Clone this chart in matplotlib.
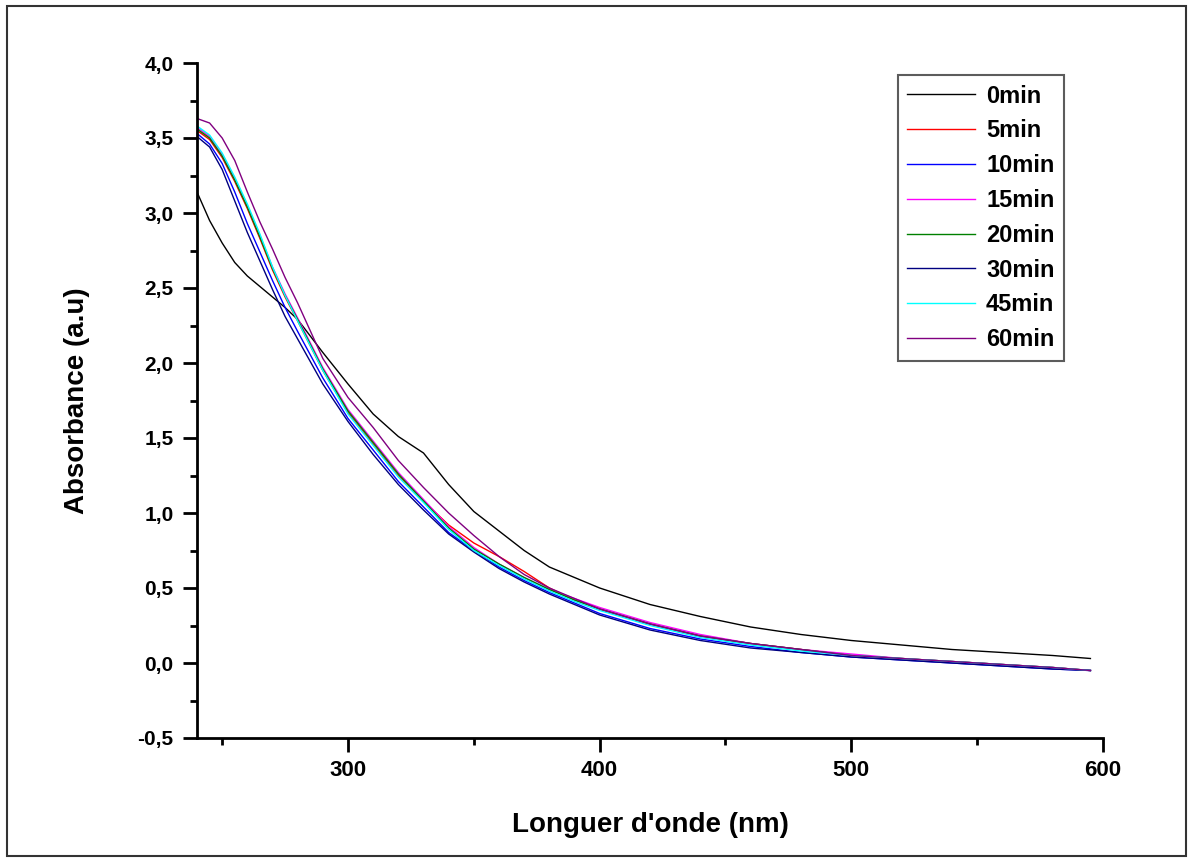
import matplotlib
matplotlib.use("Agg")
import matplotlib.pyplot as plt
from matplotlib.ticker import MultipleLocator, FuncFormatter
from matplotlib.patches import Rectangle

plt.rcParams['font.family'] = ['Liberation Sans', 'DejaVu Sans']
plt.rcParams['font.weight'] = 'bold'

# longueur d'onde (nm)
wl = [240, 245, 250, 255, 260, 265, 270, 275, 280, 290, 300, 310, 320, 330, 340,
      350, 360, 370, 380, 390, 400, 420, 440, 460, 480, 500, 520, 540, 560, 580, 595]

a_0 = [3.14, 2.95, 2.80, 2.67, 2.58, 2.51, 2.44, 2.37, 2.29, 2.07, 1.86, 1.66, 1.51, 1.40, 1.19,
       1.01, 0.88, 0.75, 0.64, 0.57, 0.50, 0.39, 0.31, 0.24, 0.19, 0.15, 0.12, 0.09, 0.07, 0.05, 0.03]
a_5 = [3.55, 3.49, 3.37, 3.21, 3.03, 2.83, 2.62, 2.44, 2.28, 1.95, 1.67, 1.46, 1.25, 1.08, 0.92,
       0.80, 0.71, 0.61, 0.50, 0.42, 0.36, 0.26, 0.18, 0.13, 0.09, 0.05, 0.03, 0.01, -0.01, -0.03, -0.05]
a_10 = [3.53, 3.46, 3.33, 3.14, 2.93, 2.74, 2.55, 2.37, 2.21, 1.90, 1.63, 1.42, 1.21, 1.04, 0.87,
        0.75, 0.64, 0.55, 0.47, 0.40, 0.33, 0.23, 0.16, 0.11, 0.07, 0.04, 0.02, 0.00, -0.02, -0.04, -0.05]
a_15 = [3.57, 3.51, 3.39, 3.23, 3.05, 2.85, 2.64, 2.46, 2.30, 1.97, 1.69, 1.48, 1.27, 1.09, 0.91,
        0.77, 0.66, 0.57, 0.49, 0.43, 0.37, 0.27, 0.19, 0.13, 0.09, 0.06, 0.03, 0.01, -0.01, -0.03, -0.05]
a_20 = [3.56, 3.50, 3.38, 3.22, 3.04, 2.84, 2.63, 2.45, 2.29, 1.96, 1.68, 1.47, 1.26, 1.08, 0.90,
        0.76, 0.66, 0.57, 0.49, 0.42, 0.36, 0.26, 0.18, 0.13, 0.09, 0.05, 0.03, 0.01, -0.01, -0.03, -0.05]
a_30 = [3.51, 3.44, 3.29, 3.08, 2.87, 2.68, 2.49, 2.31, 2.16, 1.86, 1.61, 1.39, 1.19, 1.02, 0.86,
        0.74, 0.63, 0.54, 0.46, 0.39, 0.32, 0.22, 0.15, 0.10, 0.07, 0.04, 0.02, 0.00, -0.02, -0.04, -0.05]
a_45 = [3.58, 3.52, 3.40, 3.24, 3.06, 2.86, 2.64, 2.45, 2.28, 1.95, 1.66, 1.45, 1.24, 1.07, 0.89,
        0.75, 0.65, 0.56, 0.48, 0.41, 0.35, 0.25, 0.17, 0.12, 0.08, 0.05, 0.03, 0.01, -0.01, -0.03, -0.05]
a_60 = [3.63, 3.60, 3.50, 3.35, 3.14, 2.94, 2.76, 2.57, 2.40, 2.03, 1.77, 1.57, 1.35, 1.17, 1.00,
        0.85, 0.71, 0.59, 0.50, 0.43, 0.36, 0.26, 0.18, 0.13, 0.09, 0.05, 0.03, 0.01, -0.01, -0.03, -0.05]

labels = ['0min', '5min', '10min', '15min', '20min', '30min', '45min', '60min']
series = [a_0, a_5, a_10, a_15, a_20, a_30, a_45, a_60]
colors = ['#000000', '#ff0000', '#0000ff', '#ff00ff', '#008000', '#000080', '#00ffff', '#800080']

W, H = 1193, 859
fig = plt.figure(figsize=(W / 100, H / 100), dpi=100)
ax = fig.add_axes([197 / W, (H - 738) / H, 906 / W, 675 / H])

for y, lab, c in zip(series, labels, colors):
    ax.plot(wl, y, color=c, lw=1.0, label=lab)

ax.set_xlim(240, 600)
ax.set_ylim(-0.5, 4.0)
ax.xaxis.set_major_locator(MultipleLocator(100))
ax.xaxis.set_minor_locator(MultipleLocator(50))
ax.yaxis.set_major_locator(MultipleLocator(0.5))
ax.yaxis.set_minor_locator(MultipleLocator(0.25))
ax.yaxis.set_major_formatter(FuncFormatter(lambda v, p: ('%.1f' % v).replace('.', ',')))

for s in ['top', 'right']:
    ax.spines[s].set_visible(False)
for s in ['left', 'bottom']:
    ax.spines[s].set_linewidth(2)
ax.tick_params(which='major', direction='out', length=10, width=2)
ax.tick_params(which='minor', direction='out', length=5, width=2)
ax.tick_params(axis='y', which='major', labelsize=15, pad=7)
ax.tick_params(axis='x', which='major', labelsize=16, pad=6)
for t in ax.get_xticklabels() + ax.get_yticklabels():
    t.set_fontweight('bold')

ax.set_xlabel("Longuer d'onde (nm)", fontsize=20, fontweight='bold', labelpad=22)
ax.set_ylabel("Absorbance (a.u)", fontsize=20, fontweight='bold', labelpad=34)

leg = ax.legend(loc='upper right', bbox_to_anchor=(0.957, 0.982), fontsize=17,
                handlelength=2.9, labelspacing=0.5, frameon=True, fancybox=False,
                borderpad=0.4, borderaxespad=0, handletextpad=0.45)
leg.get_frame().set_edgecolor('#333333')
leg.get_frame().set_linewidth(1.5)
for t in leg.get_texts():
    t.set_fontweight('bold')

# cadre autour de la figure
fig.patches.append(Rectangle((7 / W, 3 / H), 1179 / W, 850 / H, transform=fig.transFigure,
                             fill=False, edgecolor='#333333', lw=1.5))

fig.savefig("out.png", dpi=100)
